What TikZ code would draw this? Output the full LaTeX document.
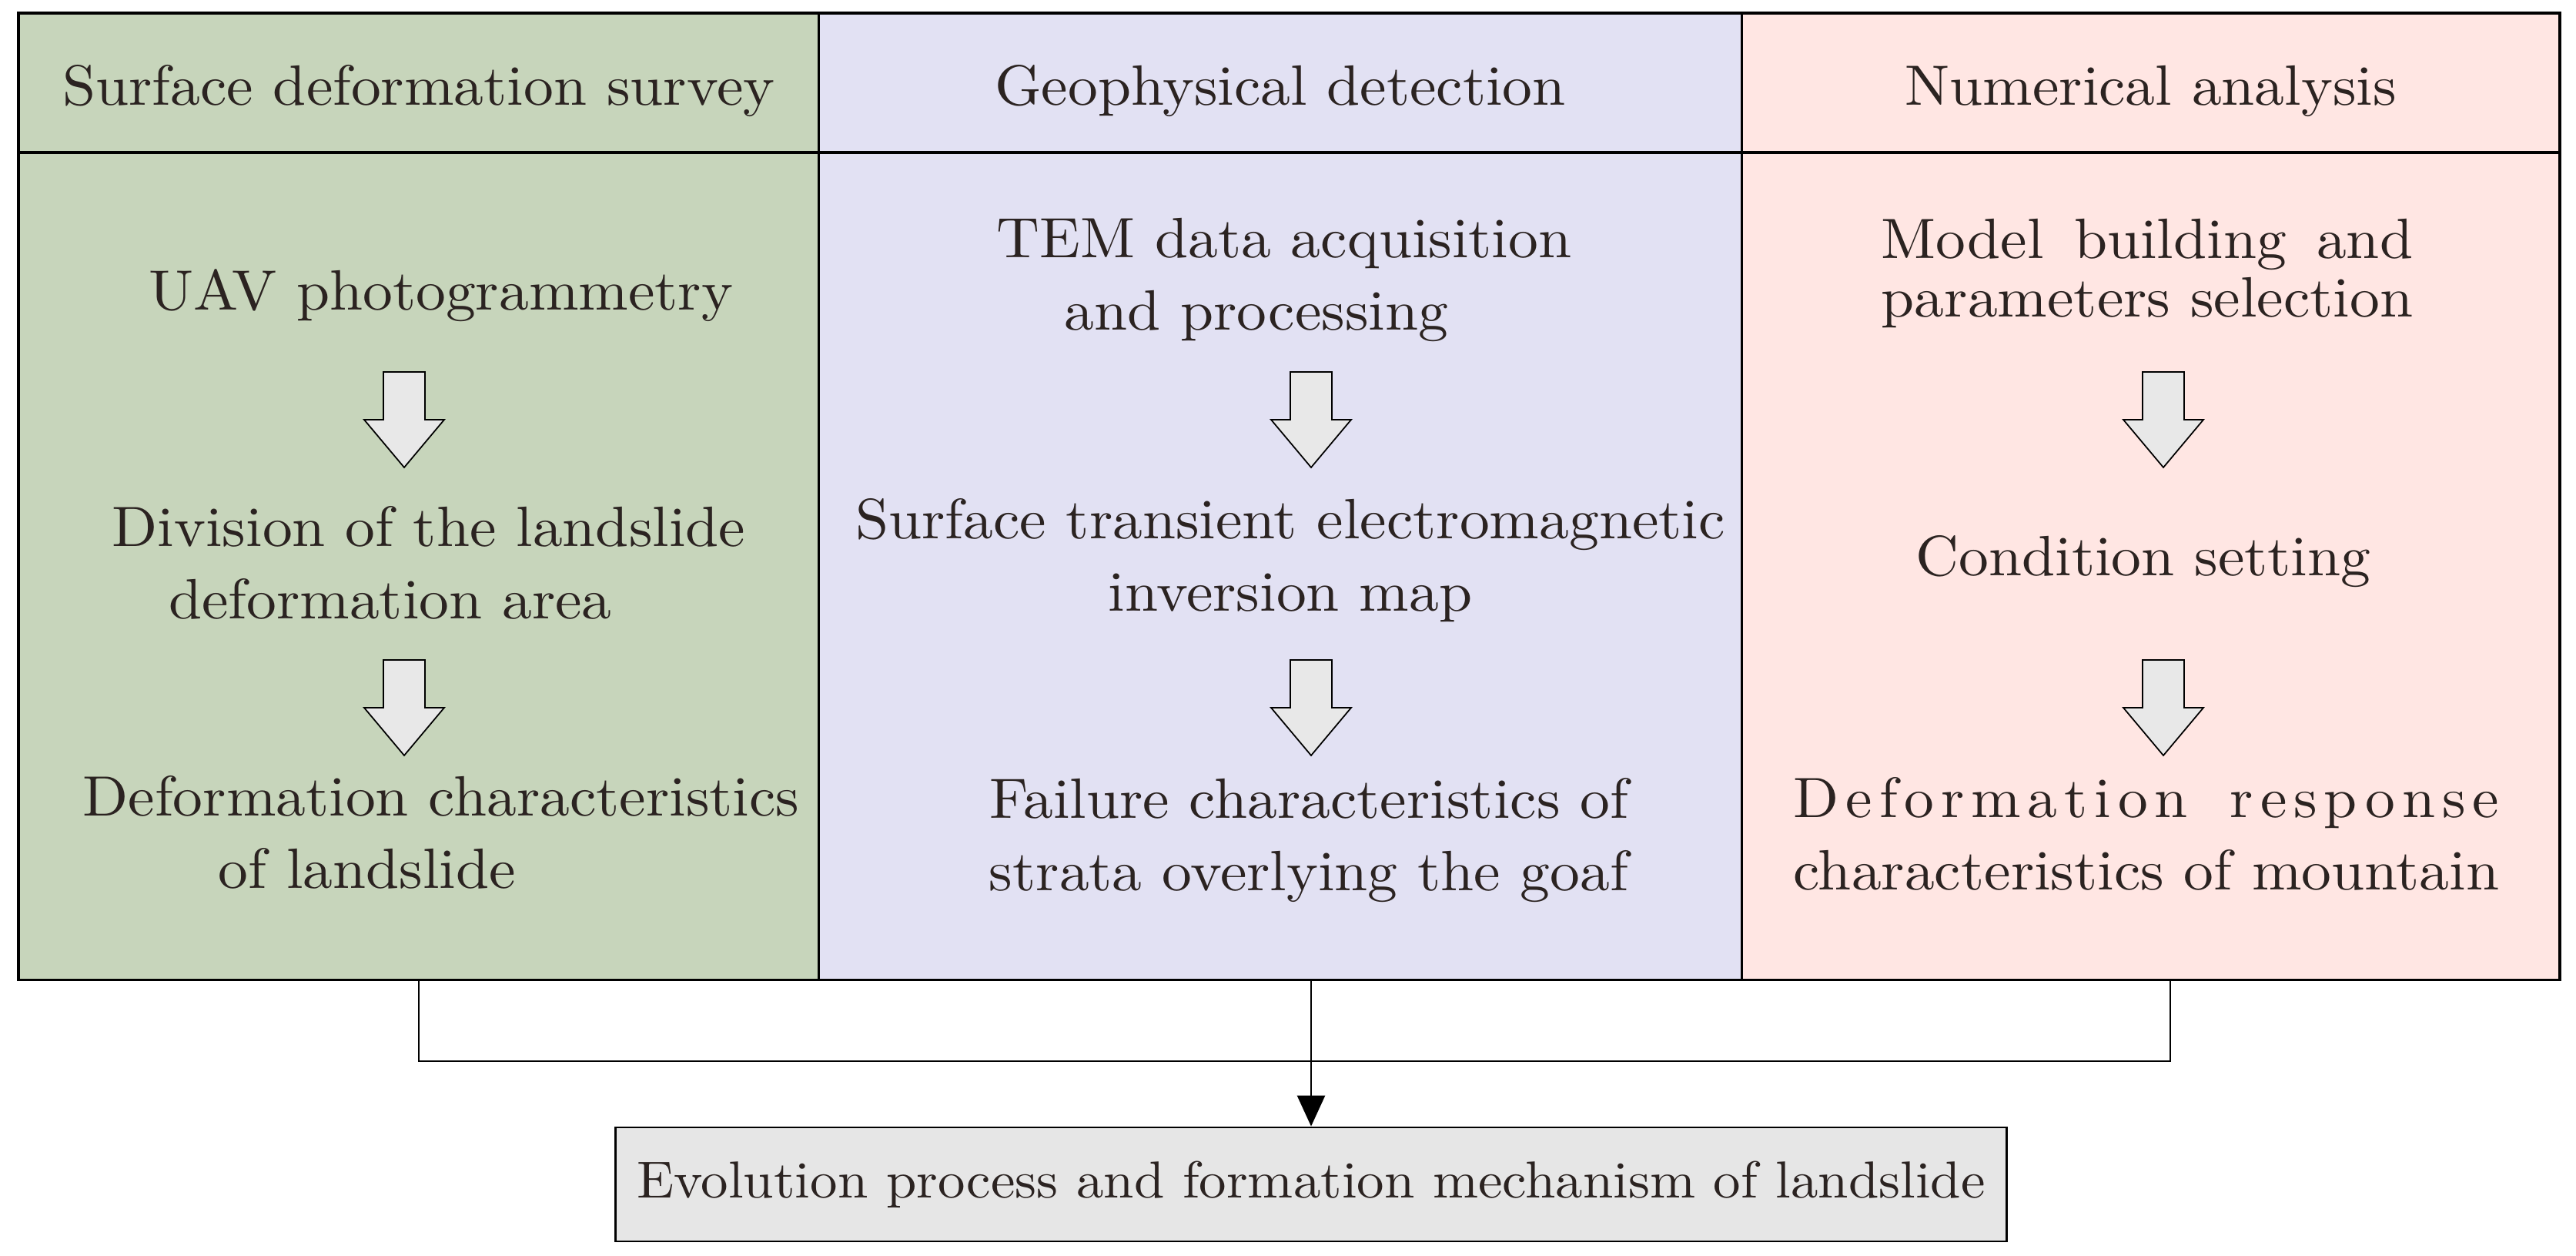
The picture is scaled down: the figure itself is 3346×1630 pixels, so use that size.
\documentclass[tikz,border=0pt]{standalone}
\usepackage{fontspec}
\setmainfont{lmroman10-regular.otf}[FakeStretch=1.05]
\usepackage{calc}
\usepackage{tikz}
\usetikzlibrary{arrows.meta,positioning}
\usepackage{xcolor}

\definecolor{surveygreen}{HTML}{C7D5BB}
\definecolor{geolilac}{HTML}{E2E1F3}
\definecolor{numpink}{HTML}{FFE6E3}
\definecolor{arrowgray}{HTML}{E8E8E8}
\definecolor{resultgray}{HTML}{E6E6E6}
\definecolor{inkdark}{HTML}{2B2321}

\newcommand{\figfont}{\fontsize{21pt}{26.7pt}\selectfont}
\newcommand{\resultfont}{\fontsize{19.2pt}{24pt}\selectfont}

\begin{document}
\begin{tikzpicture}[
        x=0.01cm, y=-0.01cm,
        col/.style={rectangle, draw=black, line width=0.8pt, outer sep=0pt, inner sep=0pt, minimum height=10.74cm},
        head/.style={rectangle, draw=black, line width=0.8pt, outer sep=0pt, inner sep=0pt, minimum height=1.81cm, font=\figfont, text=inkdark, text height=18pt, text depth=1.5pt},
        txt/.style={inner sep=0pt, font=\figfont, text=inkdark, align=center, anchor=base},
        link/.style={line width=0.8pt},
        downarrow/.pic={\draw[fill=arrowgray, line width=0.5pt] (-27,0) -- (27,0) -- (27,62) -- (52,62) -- (0,124) -- (-52,62) -- (-27,62) -- cycle;}
    ]
        \useasboundingbox (0,0) rectangle (3346,1630);

        % Column bodies
        \node[col, fill=surveygreen, minimum width=10.39cm, anchor=north west] (body1) at (24,198) {};
        \node[col, fill=geolilac, minimum width=11.98cm] (body2) [right=0pt of body1] {};
        \node[col, fill=numpink, minimum width=10.62cm] (body3) [right=0pt of body2] {};

        % Column heads
        \node[head, fill=surveygreen, minimum width=10.39cm] (head1) [above=0pt of body1] {Surface deformation survey};
        \node[head, fill=geolilac, minimum width=11.98cm] (head2) [above=0pt of body2] {Geophysical detection};
        \node[head, fill=numpink, minimum width=10.62cm] (head3) [above=0pt of body3] {Numerical analysis};
        \draw[line width=1pt] (head1.north west) rectangle (body3.south east);
        \draw[line width=1pt] (head1.south west) -- (head3.south east);

        % Surface deformation survey
        \node[txt] (uav) at (573,402) {UAV photogrammetry};
        \pic at (525,483) {downarrow};
        \node[txt] (division) at (557,803) {Division of the landslide\\deformation area\hspace*{1cm}};
        \pic at (525,857) {downarrow};
        \node[txt] (landchar) at (573,1153) {Deformation characteristics\\of landslide\hspace*{1.92cm}};

        % Geophysical detection
        \node[txt] (tem) at (1668,428) {TEM data acquisition\\and processing\hspace*{0.72cm}};
        \pic at (1703,483) {downarrow};
        \node[txt] (inversion) at (1676,793) {Surface transient electromagnetic\\inversion map};
        \pic at (1703,857) {downarrow};
        \node[txt] (failure) at (1700,1156) {Failure characteristics of\\strata overlying the goaf};

        % Numerical analysis
        \node[txt] (model) at (2789,411) {\makebox[\widthof{parameters selection}][s]{Model building and}\\[-5.1pt]parameters selection};
        \pic at (2810,483) {downarrow};
        \node[txt] (condition) at (2784,747) {Condition setting};
        \pic at (2810,857) {downarrow};
        \node[txt] (response) at (2788,1155) {\makebox[\widthof{characteristics of mountain}][s]{\addfontfeature{LetterSpace=12}Deformation response}\\characteristics of mountain};

        % Result
        \node[rectangle, draw=black, line width=0.8pt, fill=resultgray, minimum width=18.06cm, minimum height=1.48cm, inner sep=0pt, font=\resultfont, text=inkdark] (result) at (1703,1538) {Evolution process and formation mechanism of landslide};

        % Links
        \coordinate (jleft) at (544,1378);
        \coordinate (jright) at (2819,1378);
        \draw[link] (jleft |- body1.south) -- (jleft) -- (jright) -- (jright |- body3.south);
        \draw[link, -{Triangle[width=0.36cm, length=0.4cm]}] (result.north |- body2.south) -- (result.north);

    \end{tikzpicture}
\end{document}
